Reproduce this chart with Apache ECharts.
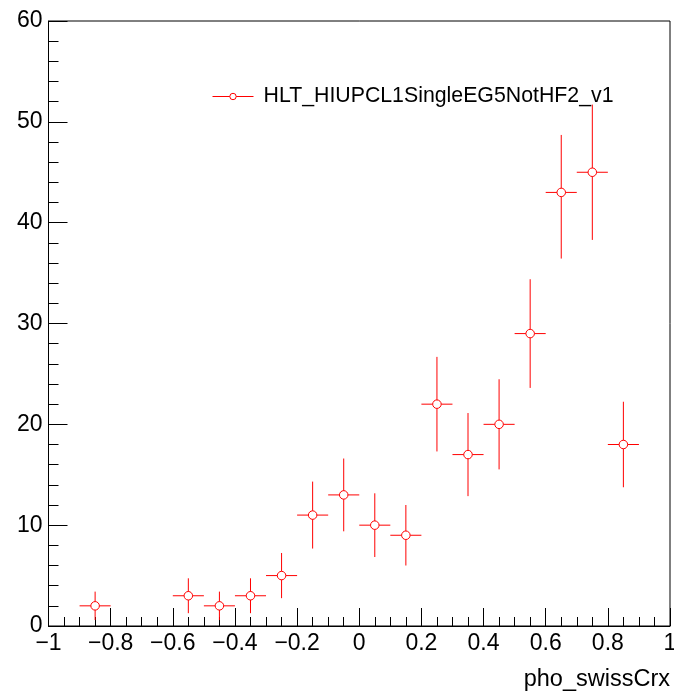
<!DOCTYPE html>
<html>
<head>
<meta charset="utf-8">
<script src="https://cdn.jsdelivr.net/npm/echarts@6/dist/echarts.min.js"></script>
<style>
html,body{margin:0;padding:0;background:#fff;}
#c{width:674px;height:692px;}
</style>
</head>
<body>
<div id="c"></div>
<script>
// Data
const binCenters = [-0.85,-0.55,-0.45,-0.35,-0.25,-0.15,-0.05,0.05,0.15,0.25,0.35,0.45,0.55,0.65,0.75,0.85];
const counts     = [2,3,2,3,5,11,13,10,9,22,17,20,29,43,45,18];
const errLow     = [1.41,1.73,1.41,1.73,2.24,3.32,3.61,3.16,3.0,4.69,4.12,4.47,5.39,6.56,6.71,4.24];
const errHigh    = [1.41,1.73,1.41,1.73,2.24,3.32,3.61,3.16,3.0,4.69,4.12,4.47,5.39,5.7,6.71,4.24];
const binHalfWidth = 0.05;
const seriesName = 'HLT_HIUPCL1SingleEG5NotHF2_v1';
const xTitle = 'pho_swissCrx';

const RED = '#ff0000';
const FONT = 'Liberation Sans, Arial, Helvetica, sans-serif';

const errData = binCenters.map((x,i)=>[x, counts[i], errLow[i], errHigh[i]]);
const ptData = binCenters.map((x,i)=>[x, counts[i]]);

const chart = echarts.init(document.getElementById('c'), null, {renderer:'canvas'});
chart.setOption({
  animation:false,
  backgroundColor:'#fff',
  grid:{left:48.5, right:4, top:21, bottom:66, show:true, borderColor:'#000', borderWidth:1,
        backgroundColor:'transparent', containLabel:false, outerBoundsMode:'none'},
  legend:{
    show:true, left:212, top:86, padding:0, itemWidth:41, itemHeight:8,
    data:[{name:seriesName}],
    lineStyle:{color:RED, width:1, opacity:1},
    itemStyle:{color:'#fff', borderColor:RED, borderWidth:1},
    textStyle:{fontFamily:FONT, fontSize:21.3, color:'#000', padding:[0,0,0,5]}
  },
  xAxis:{
    type:'value', min:-1, max:1, interval:0.2,
    axisLine:{show:true, onZero:false, lineStyle:{color:'#000', width:1}},
    axisTick:{show:true, inside:true, length:18, lineStyle:{color:'#000'}},
    minorTick:{show:true, splitNumber:4, length:9, lineStyle:{color:'#000'}},
    splitLine:{show:false},
    axisLabel:{fontFamily:FONT, fontSize:23, color:'#000', margin:6,
      formatter:(v)=>{ const s = (Math.round(v*10)/10).toString(); return s.replace('-', '\u2212'); }},
    name:xTitle, nameLocation:'end', nameGap:0,
    nameTextStyle:{fontFamily:FONT, fontSize:23.5, color:'#000', align:'right', verticalAlign:'top', padding:[42,0,0,0]}
  },
  yAxis:{
    type:'value', min:0, max:60, interval:10,
    axisLine:{show:true, onZero:false, lineStyle:{color:'#000', width:1}},
    axisTick:{show:true, inside:true, length:19, lineStyle:{color:'#000'}},
    minorTick:{show:true, splitNumber:5, length:10, lineStyle:{color:'#000'}},
    splitLine:{show:false},
    axisLabel:{fontFamily:FONT, fontSize:23, color:'#000', margin:6}
  },
  series:[
    {
      type:'custom', name:'err', data:errData, z:2, silent:true,
      renderItem:(params, api)=>{
        const x = api.value(0), y = api.value(1), lo = api.value(2), hi = api.value(3);
        const top = api.coord([x, y+hi]);
        const bot = api.coord([x, y-lo]);
        const l = api.coord([x-binHalfWidth, y]);
        const r = api.coord([x+binHalfWidth, y]);
        const st = {stroke:RED, lineWidth:1};
        return {type:'group', children:[
          {type:'line', shape:{x1:top[0], y1:top[1], x2:bot[0], y2:bot[1]}, style:st},
          {type:'line', shape:{x1:l[0], y1:l[1], x2:r[0], y2:r[1]}, style:st}
        ]};
      }
    },
    {
      type:'line', name:seriesName, data:ptData, z:3,
      symbol:'circle', symbolSize:8.5, showSymbol:true,
      itemStyle:{color:'#fff', borderColor:RED, borderWidth:1},
      lineStyle:{opacity:0, width:0}
    }
  ]
});
</script>
</body>
</html>
